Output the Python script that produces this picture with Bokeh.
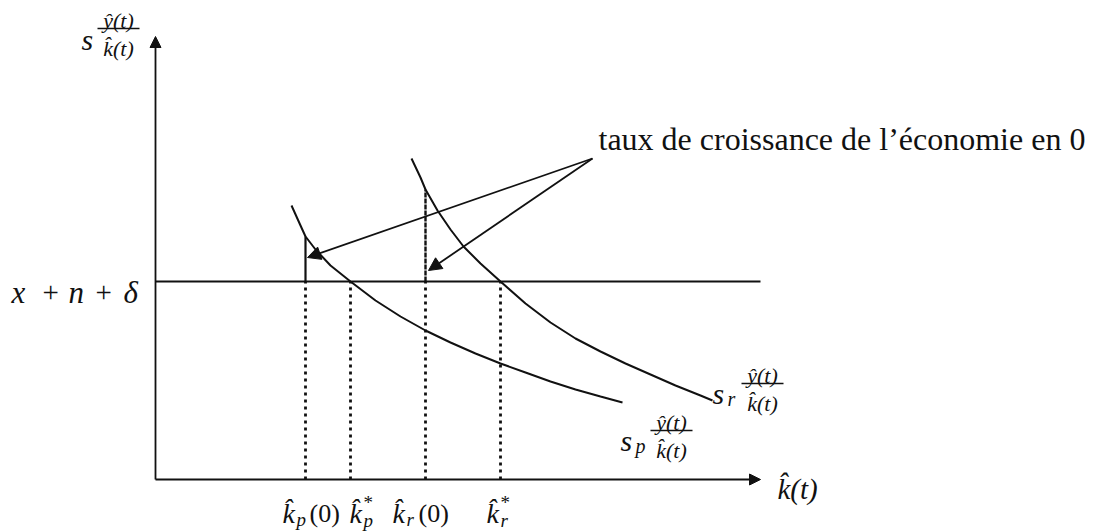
from bokeh.plotting import figure
from bokeh.models import Range1d, Label, Arrow, NormalHead
from bokeh.embed import file_html
from bokeh.resources import INLINE

# Page size and where the origin of the diagram sits (in screen pixels)
W, H = 1119, 531
OX, OY = 155, 479
FONT = "Liberation Serif"
IFONT = "'Liberation Serif', 'DejaVu Serif', serif"

# Savings-rate curves s * y(t)/k(t) against capital per effective worker
sp_k = [136, 145, 150, 160, 175, 195, 220, 245, 270, 295, 320, 345, 370, 395, 420, 445, 467]
sp_g = [274, 254, 243, 230, 214, 198, 179, 163, 149, 137, 126, 116, 107, 98, 90, 83, 77]
sr_k = [256, 265, 270, 282, 295, 308, 325, 345, 370, 395, 420, 445, 470, 495, 520, 545, 557]
sr_g = [321, 302, 290, 269, 250, 233, 216, 198, 176, 157, 141, 128, 116, 105, 94, 84, 79]

# Break-even line x + n + delta
break_even = 198

# Initial capital and steady states for the poor (p) and rich (r) economies
k_p0, k_p_star, k_r0, k_r_star = 150, 195, 270, 345
k_marks = [k_p0, k_p_star, k_r0, k_r_star]

# Axis extents
x_end, y_end = 605, 443

g_p0 = sp_g[sp_k.index(k_p0)]
g_r0 = sr_g[sr_k.index(k_r0)]

p = figure(width=W, height=H, x_range=Range1d(-OX, W - OX), y_range=Range1d(OY - H, OY),
           output_backend="svg", toolbar_location=None, min_border=0,
           x_axis_type=None, y_axis_type=None)
p.grid.visible = False
p.outline_line_color = None
p.background_fill_color = "white"
p.border_fill_color = "white"

BLACK = "#111111"

# axes with arrow heads
for xe, ye in [(0, y_end), (x_end, 0)]:
    p.add_layout(Arrow(end=NormalHead(size=11, fill_color=BLACK, line_color=BLACK, line_width=1),
                       x_start=0, y_start=0, x_end=xe, y_end=ye, line_width=1.8, line_color=BLACK))

# break-even line
p.line([0, x_end], [break_even, break_even], line_width=2, line_color=BLACK)

# the two curves
p.line(sp_k, sp_g, line_width=2, line_color=BLACK)
p.line(sr_k, sr_g, line_width=2, line_color=BLACK)

# dotted drop lines down to the k axis
p.segment(x0=k_marks, y0=[0] * 4, x1=k_marks, y1=[break_even] * 4,
          line_width=2.8, line_dash="3 4", line_color=BLACK)

# growth-rate gaps at the initial capital stocks
p.segment(x0=[k_p0], y0=[break_even], x1=[k_p0], y1=[g_p0], line_width=2.2, line_color=BLACK)
p.segment(x0=[k_r0], y0=[break_even], x1=[k_r0], y1=[g_r0], line_width=2.4,
          line_dash="5 1", line_color=BLACK)

# pointers from the annotation to the two gaps
src = (437, 321)
for tx, ty in [(k_p0 + 2, 222), (k_r0 + 3, 209)]:
    p.add_layout(Arrow(end=NormalHead(size=13, fill_color=BLACK, line_color=BLACK, line_width=1),
                       x_start=src[0], y_start=src[1], x_end=tx, y_end=ty,
                       line_width=1.8, line_color=BLACK))


def txt(px, py, s, size=26, style="italic", align="left"):
    font = IFONT if style == "italic" else FONT
    p.add_layout(Label(x=px - OX, y=OY - py, text=s, text_font=font,
                       text_font_size=f"{size}px", text_font_style=style,
                       text_align=align, text_baseline="alphabetic", text_color=BLACK))


def frac(px_l, px_r, py_bar, size=22):
    cx = (px_l + px_r) / 2
    txt(cx, py_bar - 8, "\u0177(t)", size, align="center")
    txt(cx, py_bar + 20, "k\u0302(t)", size, align="center")
    p.segment(x0=[px_l - OX], y0=[OY - py_bar], x1=[px_r - OX], y1=[OY - py_bar],
              line_width=1.4, line_color=BLACK)


# vertical axis title
txt(81, 39, "s", 30)
frac(97, 139, 28)

# horizontal axis title
txt(777, 488, "k\u0302(t)", 29)

# break-even label
txt(11, 292, "x", 31)
txt(42, 292, "+", 29, "normal")
txt(68, 292, "n", 31)
txt(95, 292, "+", 29, "normal")
txt(123, 292, "\u03b4", 31)

# curve labels
txt(620, 440, "s", 30)
txt(635, 445, "p", 20)
frac(650, 692, 430)
txt(712, 393, "s", 30)
txt(727, 398, "r", 20)
frac(741, 783, 383)

# labels under the k axis
txt(282, 513, "k\u0302", 28)
txt(296, 519, "p", 19)
txt(309, 513, "(0)", 26, "normal")
txt(349, 513, "k\u0302", 28)
txt(363, 502, "*", 19, "normal")
txt(363, 520, "p", 19)
txt(392, 513, "k\u0302", 28)
txt(406, 519, "r", 19)
txt(418, 513, "(0)", 26, "normal")
txt(486, 513, "k\u0302", 28)
txt(500, 502, "*", 19, "normal")
txt(500, 520, "r", 19)

# annotation
txt(598, 138, "taux de croissance de l\u2019\u00e9conomie en 0", 32, "normal")

open("out.html", "w").write(file_html(p, INLINE))
